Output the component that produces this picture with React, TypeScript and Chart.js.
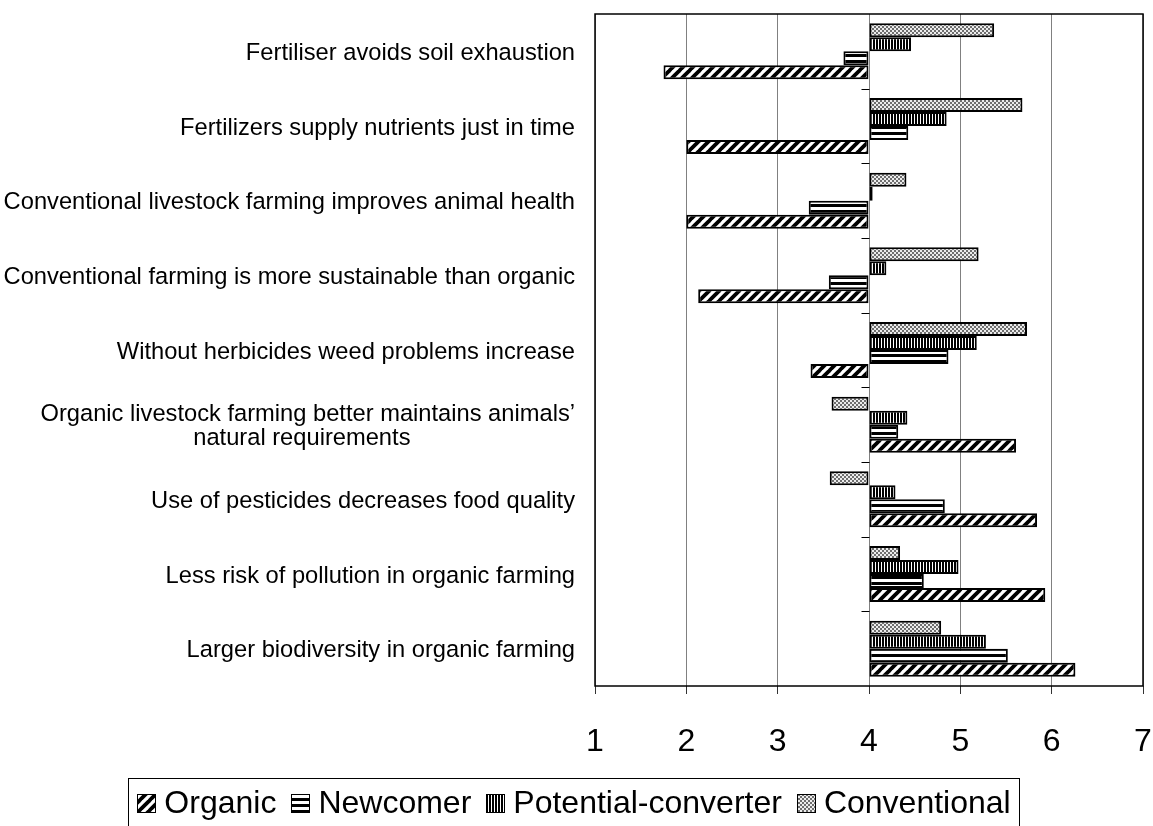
import React, { useEffect, useRef } from "react";
import { Chart, registerables } from "chart.js";

Chart.register(...registerables);

// ---------- data ----------
const categories: (string | string[])[] = [
  "Fertiliser avoids soil exhaustion",
  "Fertilizers supply nutrients just in time",
  "Conventional livestock farming improves animal health",
  "Conventional farming is more sustainable than organic",
  "Without herbicides weed problems increase",
  [
    "Organic livestock farming better maintains animals’",
    "natural requirements                         ",
  ],
  "Use of pesticides decreases food quality",
  "Less risk of pollution in organic farming",
  "Larger biodiversity in organic farming",
];

const organic = [1.75, 2.0, 2.0, 2.13, 3.36, 5.61, 5.84, 5.93, 6.26];
const newcomer = [3.72, 4.43, 3.34, 3.56, 4.87, 4.32, 4.83, 4.6, 5.52];
const potentialConverter = [4.46, 4.85, 4.04, 4.19, 5.18, 4.42, 4.29, 4.98, 5.28];
const conventional = [5.37, 5.68, 4.41, 5.2, 5.73, 3.59, 3.57, 4.34, 4.79];

const xTicks = [1, 2, 3, 4, 5, 6, 7];
const neutralValue = 4;
const legendOrder = ["Organic", "Newcomer", "Potential-converter", "Conventional"];

const FONT = "'Liberation Sans', Arial, sans-serif";

// ---------- patterns ----------
function makePattern(kind: string): CanvasPattern | string {
  const c = document.createElement("canvas");
  const g = c.getContext("2d");
  if (!g) return "#888";
  if (kind === "diag") {
    c.width = 10;
    c.height = 10;
    g.fillStyle = "#fff";
    g.fillRect(0, 0, 10, 10);
    g.strokeStyle = "#000";
    g.lineWidth = 3.8;
    for (const k of [0, 10, 20]) {
      g.beginPath();
      g.moveTo(k - 11, 11);
      g.lineTo(k + 1, -1);
      g.stroke();
    }
  } else if (kind === "hstripe") {
    c.width = 4;
    c.height = 6;
    g.fillStyle = "#fff";
    g.fillRect(0, 0, 4, 6);
    g.fillStyle = "#000";
    g.fillRect(0, 0, 4, 3);
  } else if (kind === "vstripe") {
    c.width = 3;
    c.height = 4;
    g.fillStyle = "#fff";
    g.fillRect(0, 0, 3, 4);
    g.fillStyle = "#000";
    g.fillRect(0, 0, 2, 4);
  } else {
    c.width = 4;
    c.height = 4;
    g.fillStyle = "#ececec";
    g.fillRect(0, 0, 4, 4);
    g.fillStyle = "#6e6e6e";
    g.fillRect(0, 0, 2, 2);
    g.fillRect(2, 2, 2, 2);
  }
  const p = g.createPattern(c, "repeat");
  return p || "#888";
}

// ---------- plugins ----------
const frameAndTicksPlugin = {
  id: "frameAndTicks",
  afterDatasetsDraw(chart: any) {
    const { ctx, chartArea } = chart;
    const x = chart.scales.x;
    const y = chart.scales.y;
    ctx.save();
    ctx.strokeStyle = "#000";
    ctx.lineWidth = 1.5;
    ctx.strokeRect(
      chartArea.left,
      chartArea.top,
      chartArea.right - chartArea.left,
      chartArea.bottom - chartArea.top
    );
    const xc = Math.round(x.getPixelForValue(neutralValue)) + 0.5;
    ctx.lineWidth = 1;
    for (let i = 1; i < categories.length; i++) {
      const py = Math.round(y.getPixelForValue(i - 0.5)) + 0.5;
      ctx.beginPath();
      ctx.moveTo(xc - 8, py);
      ctx.lineTo(xc, py);
      ctx.stroke();
    }
    ctx.restore();
  },
};

const legendBoxPlugin = {
  id: "legendBox",
  afterDraw(chart: any, _args: any, opts: any) {
    const { ctx } = chart;
    const datasets = chart.data.datasets;
    ctx.save();
    ctx.font = `${opts.fontSize}px ${FONT}`;
    ctx.textBaseline = "middle";
    ctx.textAlign = "left";
    const box = opts.boxSize;
    const items = legendOrder.map((label) => {
      const ds = datasets.find((d: any) => d.label === label);
      return { label, ds, w: box + opts.boxGap + ctx.measureText(label).width };
    });
    const total =
      items.reduce((s: number, it: any) => s + it.w, 0) + opts.itemGap * (items.length - 1);
    let cx = opts.centerX - total / 2;
    const cy = opts.centerY;
    ctx.strokeStyle = "#000";
    ctx.lineWidth = 1;
    ctx.strokeRect(
      Math.round(cx - opts.framePadX) + 0.5,
      opts.frameTop + 0.5,
      Math.round(total + opts.framePadX * 2),
      80
    );
    for (const it of items) {
      ctx.fillStyle = it.ds.backgroundColor;
      const bx = Math.round(cx) + 0.5;
      const by = Math.round(cy - box / 2) + 0.5;
      ctx.fillRect(bx, by, box, box);
      ctx.strokeStyle = "#000";
      ctx.strokeRect(bx, by, box, box);
      ctx.fillStyle = "#000";
      ctx.fillText(it.label, cx + box + opts.boxGap, cy + 1);
      cx += it.w + opts.itemGap;
    }
    ctx.restore();
  },
};

export default function App() {
  const ref = useRef<HTMLCanvasElement | null>(null);

  useEffect(() => {
    if (!ref.current) return;
    const common = {
      base: neutralValue,
      borderColor: "#000",
      borderWidth: 2,
      borderSkipped: false as const,
      categoryPercentage: 0.75,
      barPercentage: 1.0,
    };
    const chart = new Chart(ref.current, {
      type: "bar",
      data: {
        labels: categories as any,
        datasets: [
          { ...common, label: "Conventional", data: conventional, backgroundColor: makePattern("dots") as any },
          { ...common, label: "Potential-converter", data: potentialConverter, backgroundColor: makePattern("vstripe") as any },
          { ...common, label: "Newcomer", data: newcomer, backgroundColor: makePattern("hstripe") as any },
          { ...common, label: "Organic", data: organic, backgroundColor: makePattern("diag") as any },
        ],
      },
      options: {
        animation: false,
        responsive: true,
        maintainAspectRatio: false,
        indexAxis: "y",
        layout: { padding: { top: 14, right: 10, bottom: 70, left: 0 } },
        plugins: {
          legend: { display: false },
          tooltip: { enabled: false },
          legendBox: {
            fontSize: 32,
            boxSize: 18,
            boxGap: 9,
            itemGap: 15,
            centerX: 574,
            centerY: 803,
            frameTop: 778,
            framePadX: 9,
          },
        } as any,
        scales: {
          x: {
            type: "linear",
            min: 1,
            max: 7,
            afterBuildTicks: (s: any) => {
              s.ticks = xTicks.map((v) => ({ value: v }));
            },
            ticks: {
              font: { family: FONT, size: 32 },
              color: "#000",
              padding: 29,
            },
            grid: { color: "#808080", lineWidth: 1, tickLength: 8, tickColor: "#333" },
            border: { display: false },
            afterFit: (s: any) => {
              s.height = 70;
              s.paddingLeft = 0;
              s.paddingRight = 0;
            },
          },
          y: {
            type: "category",
            ticks: {
              font: { family: FONT, size: 23.7, lineHeight: 1.0 },
              color: "#000",
              padding: 20,
              autoSkip: false,
              labelOffset: 2,
            },
            grid: { display: false, drawTicks: false },
            border: { display: false },
            afterFit: (s: any) => {
              s.width = 595;
              s.paddingTop = 0;
              s.paddingBottom = 0;
            },
          },
        },
      },
      plugins: [frameAndTicksPlugin, legendBoxPlugin],
    });
    return () => chart.destroy();
  }, []);

  return (
    <div style={{ position: "absolute", left: 0, top: 0, width: 1153, height: 826, background: "#fff" }}>
      <canvas ref={ref} />
    </div>
  );
}
